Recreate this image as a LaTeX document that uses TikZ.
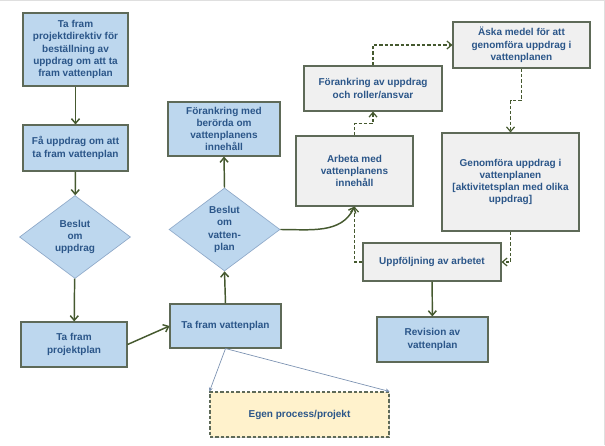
\documentclass[tikz,border=0pt]{standalone}
\usepackage{fontspec}
\setmainfont{Liberation Sans}
\usetikzlibrary{arrows.meta,shapes.geometric,shadows}
\definecolor{boxblue}{HTML}{BDD7EE}
\definecolor{boxgray}{HTML}{F0F0F0}
\definecolor{boxyellow}{HTML}{FFF2CC}
\definecolor{edgegray}{HTML}{5E6A58}
\definecolor{diamondedge}{HTML}{8FA9C9}
\definecolor{textblue}{HTML}{2B5689}
\definecolor{linegreen}{HTML}{45592F}
\definecolor{linegray}{HTML}{7990B0}
\tikzset{
  font=\fontsize{7.5}{9.2}\selectfont\bfseries,
  base/.style={
    draw=edgegray,
    line width=0.8pt,
    align=center,
    inner sep=2pt,
    text=textblue,
    drop shadow={shadow xshift=1pt, shadow yshift=-1pt, opacity=0.3}
  },
  bluebox/.style={base, fill=boxblue},
  graybox/.style={base, fill=boxgray},
  ownbox/.style={base, fill=boxyellow, dash pattern=on 2.5pt off 1.5pt},
  decision/.style={
    diamond,
    draw=diamondedge,
    fill=boxblue,
    line width=0.5pt,
    align=center,
    inner sep=0pt,
    text=textblue,
    minimum width=83.25pt,
    minimum height=62.25pt
  },
  arrow/.style={-{Straight Barb[length=3.5pt,width=6pt]}, line width=1.1pt, draw=linegreen},
  dashedarrow/.style={arrow, line width=0.9pt, dash pattern=on 2.5pt off 1.5pt},
  thinarrow/.style={-{Stealth[length=3pt,width=3pt]}, line width=0.5pt, draw=linegray}
}
\begin{document}
\begin{tikzpicture}[x=0.75pt, y=0.75pt]
\useasboundingbox (0,0) rectangle (605,-445);
\draw[gray!25, line width=1pt] (0,-0.5) -- (604.5,-0.5) -- (604.5,-445);

\node[bluebox, minimum width=78.75pt, minimum height=54.75pt] (projdirektiv) at (75.5,-49.5)
  {Ta fram\\projektdirektiv för\\beställning av\\uppdrag om att ta\\fram vattenplan};
\node[bluebox, minimum width=78.75pt, minimum height=34.5pt] (fauppdrag) at (75.5,-148)
  {Få uppdrag om att\\ta fram vattenplan};
\node[decision] (beslutuppdrag) at (75,-237) {Beslut\\om\\uppdrag};
\node[bluebox, minimum width=79.5pt, minimum height=33.75pt] (projektplan) at (74,-344.5)
  {Ta fram\\projektplan};
\node[bluebox, minimum width=83.25pt, minimum height=33pt] (vattenplan) at (225.5,-326)
  {Ta fram vattenplan};
\node[decision] (beslutvp) at (224.5,-229.5) {Beslut\\om\\vatten-\\plan};
\node[bluebox, minimum width=84pt, minimum height=40.5pt] (berorda) at (224,-129)
  {Förankring med\\berörda om\\vattenplanens\\innehåll};

% Gray steps
\node[graybox, minimum width=87.75pt, minimum height=52.5pt] (arbeta) at (354.5,-171)
  {Arbeta med\\vattenplanens\\innehåll};
\node[graybox, minimum width=103.5pt, minimum height=33.75pt] (roller) at (373,-88.5)
  {Förankring av uppdrag\\och roller/ansvar};
\node[graybox, minimum width=102.75pt, minimum height=34.5pt] (aska) at (521.5,-45)
  {Äska medel för att\\genomföra uppdrag i\\vattenplanen};
\node[graybox, minimum width=102.75pt, minimum height=73.5pt] (genomfora) at (510.5,-182)
  {Genomföra uppdrag i\\vattenplanen\\{[}aktivitetsplan med olika\\uppdrag{]}};
\node[graybox, minimum width=103.5pt, minimum height=28.5pt] (uppfoljning) at (432,-262)
  {Uppföljning av arbetet};
\node[bluebox, minimum width=83.25pt, minimum height=33.75pt] (revision) at (432.5,-339.5)
  {Revision av\\vattenplan};
\node[ownbox, minimum width=134.25pt, minimum height=33.75pt] (egen) at (299.5,-414.5)
  {Egen process/projekt};

\draw[arrow] (projdirektiv) -- (fauppdrag);
\draw[arrow] (fauppdrag) -- (beslutuppdrag);
\draw[arrow] (beslutuppdrag) -- (projektplan);
\draw[arrow] (projektplan.east) -- (vattenplan.west);
\draw[arrow] (vattenplan.north) -- (beslutvp.south);
\draw[arrow] (beslutvp.north) -- (berorda.south);
\draw[arrow] (beslutvp.east) to[out=0, in=245] (arbeta.south);
\draw[arrow] (uppfoljning) -- (revision);

\draw[dashedarrow] (arbeta.north) -- ++(0,12) -| (roller.south);
\draw[dashedarrow] (roller.north) |- (aska.west);
\draw[dashedarrow] (aska.south) -- ++(0,-32) -| (genomfora.north);
\draw[dashedarrow] (genomfora.south) |- (uppfoljning.east);
\draw[dashedarrow] (uppfoljning.west) -| (arbeta.south);

\draw[thinarrow] (vattenplan.south) -- (egen.north west);
\draw[thinarrow] (vattenplan.south) -- (egen.north east);

\end{tikzpicture}
\end{document}
